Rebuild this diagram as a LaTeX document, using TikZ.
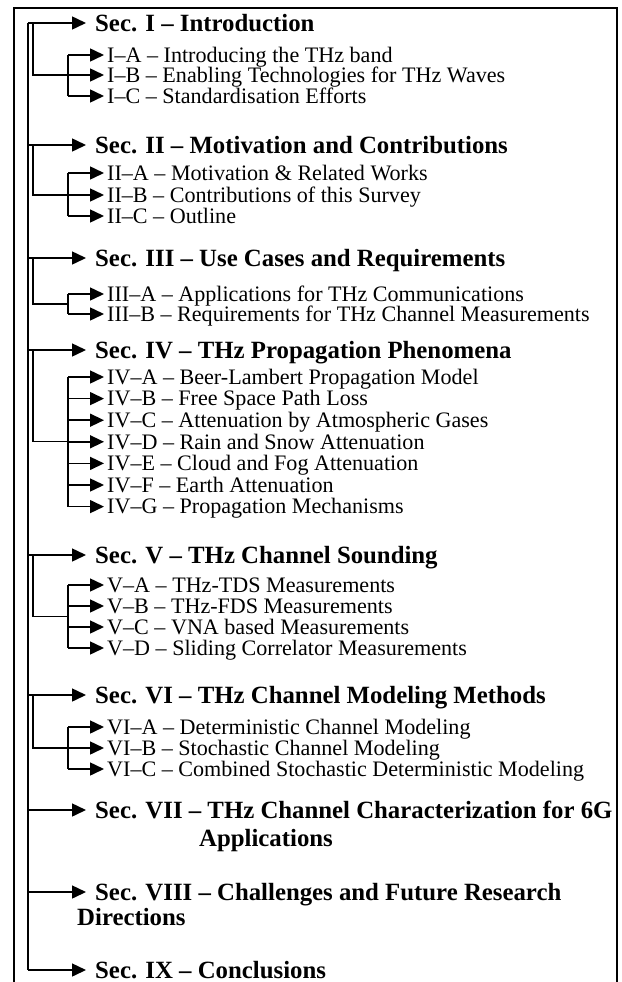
\documentclass[tikz,border=0pt]{standalone}
\usepackage{fontspec}
\setmainfont{Liberation Serif}
\usetikzlibrary{arrows.meta, calc}

\begin{document}
\begin{tikzpicture}[
    x=1pt, y=-1pt,
    sec/.style={anchor=west, inner xsep=9pt, inner ysep=0pt,
                text height=16.4pt, text depth=0pt,
                font=\bfseries\fontsize{24.8}{26}\selectfont},
    sub/.style={anchor=west, inner xsep=3pt, inner ysep=0pt,
                text height=14.6pt, text depth=0pt,
                font=\fontsize{22.1}{22}\selectfont},
    arr/.style={-{Triangle[length=14pt, width=13pt]}, line width=1.5pt},
    trunk/.style={line width=1.2pt},
    bracket/.style={line width=1.5pt},
    boxline/.style={line width=2pt}
]
    \useasboundingbox (0,0) rectangle (621,982);

    % Outer frame (open at the bottom)
    \draw[boxline] (14,982) -- (14,8) -- (617,8) -- (617,982);

    % Main trunk
    \coordinate (t1) at (28, 23);
    \coordinate (t2) at (28,145);
    \coordinate (t3) at (28,258);
    \coordinate (t4) at (28,350);
    \coordinate (t5) at (28,555);
    \coordinate (t6) at (28,695);
    \coordinate (t7) at (28,810);
    \coordinate (t8) at (28,892);
    \coordinate (t9) at (28,970);
    \draw[trunk] (t1) -- (t9);

    % Section headers
    \node[sec] (s1) at (86, 23) {Sec. I – Introduction};
    \node[sec] (s2) at (86,145) {Sec. II – Motivation and Contributions};
    \node[sec] (s3) at (86,258) {Sec. III – Use Cases and Requirements};
    \node[sec] (s4) at (86,350) {Sec. IV – THz Propagation Phenomena};
    \node[sec] (s5) at (86,555) {Sec. V – THz Channel Sounding};
    \node[sec] (s6) at (86,695) {Sec. VI – THz Channel Modeling Methods};
    \node[sec] (s7) at (86,810) {Sec. VII – THz Channel Characterization for 6G};
    \node[sec, inner xsep=0pt] (s7x) at (199,838) {Applications};
    \node[sec] (s8) at (86,892) {Sec. VIII – Challenges and Future Research};
    \node[sec, inner xsep=0pt] (s8x) at (77,917) {Directions};
    \node[sec] (s9) at (86,970) {Sec. IX – Conclusions};

    \draw[arr] (t1) -- (s1);
    \draw[arr] (t2) -- (s2);
    \draw[arr] (t3) -- (s3);
    \draw[arr] (t4) -- (s4);
    \draw[arr] (t5) -- (s5);
    \draw[arr] (t6) -- (s6);
    \draw[arr] (t7) -- (s7);
    \draw[arr] (t8) -- (s8);
    \draw[arr] (t9) -- (s9);

    % Sec. I (3)
    \coordinate (u1) at (33,23);
    \coordinate (b1a) at (68,55);
    \coordinate (b1b) at (68,75);
    \coordinate (b1c) at (68,96);
    \node[sub] (s1a) at (104,55) {I–A – Introducing the THz band};
    \node[sub] (s1b) at (104,75) {I–B – Enabling Technologies for THz Waves};
    \node[sub] (s1c) at (104,96) {I–C – Standardisation Efforts};
    \draw[trunk] (u1) |- (b1b);
    \draw[bracket] (b1a) -- (b1c);
    \draw[arr] (b1a) -- (s1a);
    \draw[arr] (b1b) -- (s1b);
    \draw[arr] (b1c) -- (s1c);

    % Sec. II (3)
    \coordinate (u2) at (33,145);
    \coordinate (b2a) at (68,173);
    \coordinate (b2b) at (68,195);
    \coordinate (b2c) at (68,216);
    \node[sub] (s2a) at (104,173) {II–A – Motivation \& Related Works};
    \node[sub] (s2b) at (104,195) {II–B – Contributions of this Survey};
    \node[sub] (s2c) at (104,216) {II–C – Outline};
    \draw[trunk] (u2) |- (b2b);
    \draw[bracket] (b2a) -- (b2c);
    \draw[arr] (b2a) -- (s2a);
    \draw[arr] (b2b) -- (s2b);
    \draw[arr] (b2c) -- (s2c);

    % Sec. III (2)
    \coordinate (u3) at (33,258);
    \coordinate (b3a) at (68,294);
    \coordinate (b3b) at (68,314);
    \node[sub] (s3a) at (104,294) {III–A – Applications for THz Communications};
    \node[sub] (s3b) at (104,314) {III–B – Requirements for THz Channel Measurements};
    \draw[trunk] (u3) |- ($(b3a)!0.5!(b3b)$);
    \draw[bracket] (b3a) -- (b3b);
    \draw[arr] (b3a) -- (s3a);
    \draw[arr] (b3b) -- (s3b);

    % Sec. IV (7)
    \coordinate (u4) at (33,350);
    \coordinate (b4a) at (68,377);
    \coordinate (b4b) at (68,398.6);
    \coordinate (b4c) at (68,420.2);
    \coordinate (b4d) at (68,441.8);
    \coordinate (b4e) at (68,463.4);
    \coordinate (b4f) at (68,485);
    \coordinate (b4g) at (68,506.6);
    \node[sub] (s4a) at (104,377)   {IV–A – Beer-Lambert Propagation Model};
    \node[sub] (s4b) at (104,398.6) {IV–B – Free Space Path Loss};
    \node[sub] (s4c) at (104,420.2) {IV–C – Attenuation by Atmospheric Gases};
    \node[sub] (s4d) at (104,441.8) {IV–D – Rain and Snow Attenuation};
    \node[sub] (s4e) at (104,463.4) {IV–E – Cloud and Fog Attenuation};
    \node[sub] (s4f) at (104,485)   {IV–F – Earth Attenuation};
    \node[sub] (s4g) at (104,506.6) {IV–G – Propagation Mechanisms};
    \draw[trunk] (u4) |- (b4d);
    \draw[bracket] (b4a) -- (b4g);
    \draw[arr] (b4a) -- (s4a);
    \draw[arr] (b4b) -- (s4b);
    \draw[arr] (b4c) -- (s4c);
    \draw[arr] (b4d) -- (s4d);
    \draw[arr] (b4e) -- (s4e);
    \draw[arr] (b4f) -- (s4f);
    \draw[arr] (b4g) -- (s4g);

    % Sec. V (4)
    \coordinate (u5) at (33,555);
    \coordinate (b5a) at (68,585);
    \coordinate (b5b) at (68,606);
    \coordinate (b5c) at (68,627);
    \coordinate (b5d) at (68,648);
    \node[sub] (s5a) at (104,585) {V–A – THz-TDS Measurements};
    \node[sub] (s5b) at (104,606) {V–B – THz-FDS Measurements};
    \node[sub] (s5c) at (104,627) {V–C – VNA based Measurements};
    \node[sub] (s5d) at (104,648) {V–D – Sliding Correlator Measurements};
    \draw[trunk] (u5) |- ($(b5b)!0.5!(b5c)$);
    \draw[bracket] (b5a) -- (b5d);
    \draw[arr] (b5a) -- (s5a);
    \draw[arr] (b5b) -- (s5b);
    \draw[arr] (b5c) -- (s5c);
    \draw[arr] (b5d) -- (s5d);

    % Sec. VI (3)
    \coordinate (u6) at (33,695);
    \coordinate (b6a) at (68,727);
    \coordinate (b6b) at (68,748);
    \coordinate (b6c) at (68,769);
    \node[sub] (s6a) at (104,727) {VI–A – Deterministic Channel Modeling};
    \node[sub] (s6b) at (104,748) {VI–B – Stochastic Channel Modeling};
    \node[sub] (s6c) at (104,769) {VI–C – Combined Stochastic Deterministic Modeling};
    \draw[trunk] (u6) |- (b6b);
    \draw[bracket] (b6a) -- (b6c);
    \draw[arr] (b6a) -- (s6a);
    \draw[arr] (b6b) -- (s6b);
    \draw[arr] (b6c) -- (s6c);
\end{tikzpicture}
\end{document}
